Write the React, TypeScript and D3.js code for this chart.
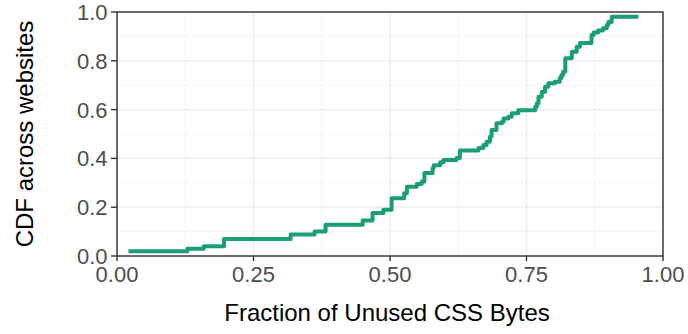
import React from "react";
import * as d3 from "d3";

// Empirical CDF of the share of CSS bytes that go unused, one step per site group
const unusedFraction = [
  0.021, 0.129, 0.159, 0.196, 0.318, 0.362, 0.382, 0.450, 0.468, 0.488,
  0.503, 0.526, 0.531, 0.549, 0.558, 0.563, 0.578, 0.580, 0.592, 0.598,
  0.622, 0.628, 0.662, 0.671, 0.677, 0.683, 0.686, 0.695, 0.705, 0.708,
  0.717, 0.723, 0.735, 0.766, 0.769, 0.772, 0.778, 0.784, 0.790, 0.802,
  0.811, 0.814, 0.817, 0.821, 0.833, 0.842, 0.848, 0.869, 0.873, 0.881,
  0.890, 0.897, 0.900, 0.906, 0.955,
];
const cdfValue = [
  0.019, 0.030, 0.040, 0.070, 0.088, 0.100, 0.128, 0.145, 0.176, 0.190,
  0.237, 0.257, 0.284, 0.295, 0.305, 0.340, 0.360, 0.372, 0.384, 0.393,
  0.402, 0.432, 0.443, 0.455, 0.468, 0.489, 0.516, 0.544, 0.550, 0.564,
  0.571, 0.585, 0.597, 0.612, 0.626, 0.653, 0.673, 0.694, 0.708, 0.714,
  0.730, 0.742, 0.755, 0.810, 0.837, 0.858, 0.873, 0.906, 0.916, 0.924,
  0.933, 0.947, 0.959, 0.981, 0.981,
];

const xTicks = [0, 0.25, 0.5, 0.75, 1];
const xMinor = [0.125, 0.375, 0.625, 0.875];
const yTicks = [0, 0.2, 0.4, 0.6, 0.8, 1];
const yMinor = [0.1, 0.3, 0.5, 0.7, 0.9];

const xTitle = "Fraction of Unused CSS Bytes";
const yTitle = "CDF across websites";

const W = 688;
const H = 334;
const panel = { left: 117, right: 663, top: 12, bottom: 256 };
const FONT = "'Liberation Sans', Arial, Helvetica, sans-serif";

export default function App() {
  const x = d3.scaleLinear().domain([0, 1]).range([panel.left, panel.right]);
  const y = d3.scaleLinear().domain([0, 1]).range([panel.bottom, panel.top]);

  const points: [number, number][] = unusedFraction.map((v, i) => [v, cdfValue[i]]);
  const line = d3
    .line<[number, number]>()
    .x((d) => x(d[0]))
    .y((d) => y(d[1]))
    .curve(d3.curveStepAfter);

  return (
    <svg
      width={W}
      height={H}
      style={{ position: "absolute", left: 0, top: 0, background: "#fff" }}
      fontFamily={FONT}
    >
      <rect x={0} y={0} width={W} height={H} fill="#fff" />
      {/* minor grid */}
      {xMinor.map((t) => (
        <line key={"xm" + t} x1={x(t)} x2={x(t)} y1={panel.top} y2={panel.bottom} stroke="#f2f2f2" strokeWidth={0.8} />
      ))}
      {yMinor.map((t) => (
        <line key={"ym" + t} y1={y(t)} y2={y(t)} x1={panel.left} x2={panel.right} stroke="#f2f2f2" strokeWidth={0.8} />
      ))}
      {/* major grid */}
      {xTicks.map((t) => (
        <line key={"xg" + t} x1={x(t)} x2={x(t)} y1={panel.top} y2={panel.bottom} stroke="#ebebeb" strokeWidth={1.3} />
      ))}
      {yTicks.map((t) => (
        <line key={"yg" + t} y1={y(t)} y2={y(t)} x1={panel.left} x2={panel.right} stroke="#ebebeb" strokeWidth={1.3} />
      ))}

      {/* ECDF step line */}
      <path
        d={line(points) ?? ""}
        fill="none"
        stroke="#1b9e77"
        strokeWidth={4}
        strokeLinejoin="round"
        strokeLinecap="butt"
      />

      {/* panel border */}
      <rect
        x={panel.left}
        y={panel.top}
        width={panel.right - panel.left}
        height={panel.bottom - panel.top}
        fill="none"
        stroke="#333333"
        strokeWidth={1.4}
      />

      {/* x axis ticks and labels */}
      {xTicks.map((t) => (
        <g key={"xt" + t}>
          <line x1={x(t)} x2={x(t)} y1={panel.bottom} y2={panel.bottom + 5} stroke="#333333" strokeWidth={1.4} />
          <text x={x(t)} y={282} textAnchor="middle" fontSize={22} fill="#4d4d4d">
            {d3.format(".2f")(t)}
          </text>
        </g>
      ))}

      {/* y axis ticks and labels */}
      {yTicks.map((t) => (
        <g key={"yt" + t}>
          <line x1={panel.left - 6} x2={panel.left} y1={y(t)} y2={y(t)} stroke="#333333" strokeWidth={1.4} />
          <text x={107.5} y={y(t) + 8} textAnchor="end" fontSize={22} fill="#4d4d4d">
            {d3.format(".1f")(t)}
          </text>
        </g>
      ))}

      {/* axis titles */}
      <text x={(panel.left + panel.right) / 2 - 3} y={321} textAnchor="middle" fontSize={24} fill="#000">
        {xTitle}
      </text>
      <text
        transform={`translate(33, ${(panel.top + panel.bottom) / 2}) rotate(-90)`}
        textAnchor="middle"
        fontSize={24}
        fill="#000"
      >
        {yTitle}
      </text>
    </svg>
  );
}
